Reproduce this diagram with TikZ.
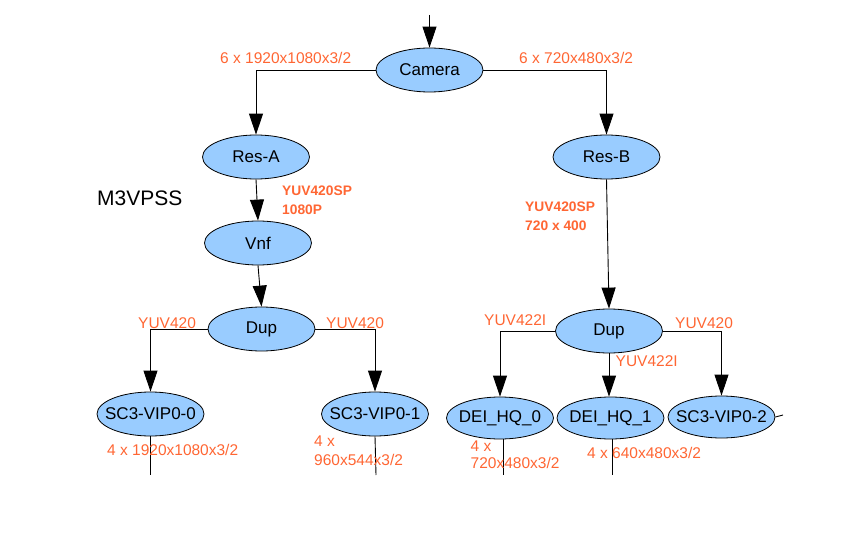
\documentclass[tikz,border=0pt]{standalone}
\usepackage{fontspec}
\setmainfont{Liberation Sans}
\usetikzlibrary{shapes.geometric,arrows.meta}
\definecolor{nodeblue}{HTML}{99CCFF}
\definecolor{lbl}{HTML}{FF6633}
\newcommand{\nt}[1]{\makebox[0pt]{#1}}
\tikzset{
  proc/.style={ellipse,draw=black,fill=nodeblue,line width=0.8pt,minimum width=107pt,minimum height=44pt,inner sep=0pt,font=\fontsize{17}{19}\selectfont},
  conn/.style={line width=0.9pt,-{Triangle[length=21pt,width=14pt]}},
  plain/.style={line width=0.9pt},
  fmt/.style={anchor=west,inner sep=0pt,text=lbl,font=\fontsize{15.5}{18}\selectfont},
  fmtb/.style={anchor=west,inner sep=0pt,text=lbl,font=\fontsize{13.8}{16}\selectfont\bfseries},
}
\begin{document}
\begin{tikzpicture}[x=1pt,y=-1pt]
\useasboundingbox (0,0) rectangle (864,540);
% nodes
\node[proc] (cam) at (429.5,70) {\nt{Camera}};
\node[proc] (resa) at (256,157) {\nt{Res-A}};
\node[proc] (resb) at (606.5,157) {\nt{Res-B}};
\node[proc] (vnf) at (258,243) {\nt{Vnf}};
\node[proc] (dupl) at (261.5,329) {\nt{Dup}};
\node[proc] (dupr) at (609,331) {\nt{Dup}};
\node[proc] (vip0) at (150.5,414) {\nt{SC3-VIP0-0}};
\node[proc] (vip1) at (375,414) {\nt{SC3-VIP0-1}};
\node[proc,minimum height=42pt] (dei0) at (500,418) {\nt{DEI\_HQ\_0}};
\node[proc,minimum height=42pt] (dei1) at (610.5,418) {\nt{DEI\_HQ\_1}};
\node[proc,minimum height=42pt] (vip2) at (721.5,417) {\nt{SC3-VIP0-2}};
\node[anchor=west,inner sep=0pt,font=\fontsize{21}{24}\selectfont] (m3) at (97,198) {M3VPSS};
% coordinates for free ends
\coordinate (in) at (429.5,15);
\coordinate (s0) at (150.5,475);
\coordinate (s1) at (376,475);
\coordinate (s2) at (503,475);
\coordinate (s3) at (612.5,475);
\coordinate (s4) at (783,415);
% connectors
\draw[conn] (in) -- (cam.north);
\draw[conn] (cam.west) -| (resa.north);
\draw[conn] (cam.east) -| (resb.north);
\draw[conn] (resa.south) -- (vnf.north);
\draw[conn] (vnf.south) -- (dupl.north);
\draw[conn] (resb.south) -- (dupr.north);
\draw[conn] (dupl.west) -| (vip0.north);
\draw[conn] (dupl.east) -| (vip1.north);
\draw[conn] (dupr.west) -| (dei0.north);
\draw[conn] (dupr.east) -| (vip2.north);
\draw[conn] (dupr.south) -- (dupr.south |- dei1.north);
\draw[plain] (vip0.south) -- (s0);
\draw[plain] (vip1.south) -- (s1);
\draw[plain] (dei0.south -| s2) -- (s2);
\draw[plain] (dei1.south -| s3) -- (s3);
\draw[plain] (vip2.east) -- (s4);
% labels
\node[fmt] (l1) at (220,58) {6 x 1920x1080x3/2};
\node[fmt] (l2) at (519,58) {6 x 720x480x3/2};
\node[fmtb] (l3) at (282,190.5) {YUV420SP};
\node[fmtb] (l4) at (282,210) {1080P};
\node[fmtb] (l5) at (525,206.5) {YUV420SP};
\node[fmtb] (l6) at (525,226) {720 x 400};
\node[fmt] (l7) at (138,323) {YUV420};
\node[fmt] (l8) at (326,323) {YUV420};
\node[fmt] (l9) at (484,320) {YUV422I};
\node[fmt] (l10) at (675,323) {YUV420};
\node[fmt] (l11) at (615.5,361) {YUV422I};
\node[fmt] (l12) at (107,450) {4 x 1920x1080x3/2};
\node[fmt] (l13) at (314,441.5) {4 x};
\node[fmt] (l14) at (314,460) {960x544x3/2};
\node[fmt] (l15) at (470.5,446.5) {4 x};
\node[fmt] (l16) at (470.5,463) {720x480x3/2};
\node[fmt] (l17) at (587,452.5) {4 x 640x480x3/2};
\end{tikzpicture}
\end{document}
